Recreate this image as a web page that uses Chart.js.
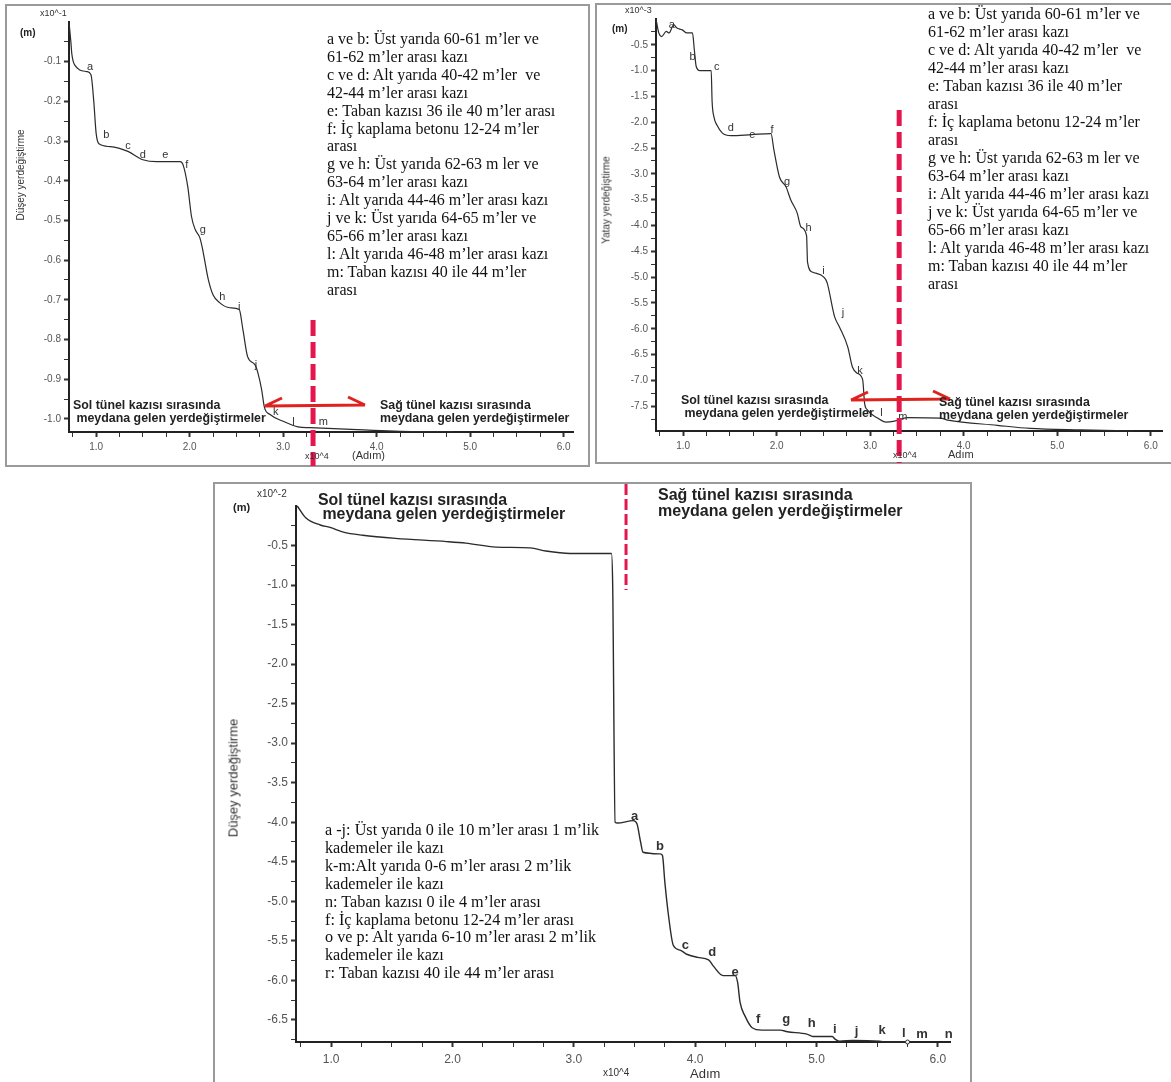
<!DOCTYPE html>
<html>
<head>
<meta charset="utf-8">
<script src="https://cdn.jsdelivr.net/npm/chart.js@4.4.1/dist/chart.umd.min.js"></script>
<style>
  body { margin: 0; background: #fff; width: 1171px; height: 1082px; position: relative; overflow: hidden; }
  canvas { position: absolute; }
  .frame { position: absolute; border: 2px solid #9a9a9a; box-sizing: border-box; }
  .t { position: absolute; white-space: pre; font-family: "Liberation Sans", Arial, sans-serif; color: #333; }
  .b { font-weight: bold; color: #222; }
  .leg { position: absolute; white-space: pre; font-family: "Liberation Serif", "Times New Roman", serif; color: #111; }
  .rot { position: absolute; white-space: pre; font-family: "Liberation Sans", Arial, sans-serif; color: #333; transform: translate(-50%, -50%) rotate(-90deg); }
</style>
</head>
<body>

<div class="frame" style="left:5px;top:4px;width:585px;height:463px"></div>
<div class="frame" style="left:595px;top:3px;width:580px;height:461px"></div>
<div class="frame" style="left:213px;top:482px;width:759px;height:604px"></div>

<canvas id="c1" width="583" height="461" style="left:6px;top:5px"></canvas>
<canvas id="c2" width="574" height="458" style="left:597px;top:5px"></canvas>
<canvas id="c3" width="755" height="599" style="left:215px;top:483px"></canvas>

<!-- top left texts -->
<div class="t" style="left:40px;top:8px;font-size:9px">x10^-1</div>
<div class="t b" style="left:20px;top:27px;font-size:10px">(m)</div>
<div class="rot" style="left:20px;top:175px;font-size:10px">Düşey yerdeğiştirme</div>
<div class="t" style="left:305px;top:451px;font-size:9px">x10^4</div>
<div class="t" style="left:352px;top:449px;font-size:11px">(Adım)</div>
<div class="t b" style="left:73px;top:399px;font-size:12.4px;line-height:12.5px">Sol tünel kazısı sırasında
 meydana gelen yerdeğiştirmeler</div>
<div class="t b" style="left:380px;top:399px;font-size:12.4px;line-height:12.5px">Sağ tünel kazısı sırasında
meydana gelen yerdeğiştirmeler</div>
<div class="leg" style="left:327px;top:30px;font-size:16px;line-height:17.9px">a ve b: Üst yarıda 60-61 m’ler ve
61-62 m’ler arası kazı
c ve d: Alt yarıda 40-42 m’ler  ve
42-44 m’ler arası kazı
e: Taban kazısı 36 ile 40 m’ler arası
f: İç kaplama betonu 12-24 m’ler
arası
g ve h: Üst yarıda 62-63 m ler ve
63-64 m’ler arası kazı
i: Alt yarıda 44-46 m’ler arası kazı
j ve k: Üst yarıda 64-65 m’ler ve
65-66 m’ler arası kazı
l: Alt yarıda 46-48 m’ler arası kazı
m: Taban kazısı 40 ile 44 m’ler
arası</div>

<!-- top right texts -->
<div class="t" style="left:625px;top:5px;font-size:9px">x10^-3</div>
<div class="t b" style="left:612px;top:23px;font-size:10px">(m)</div>
<div class="rot" style="left:606px;top:200px;font-size:10px">Yatay yerdeğiştirme</div>
<div class="t" style="left:893px;top:450px;font-size:9px">x10^4</div>
<div class="t" style="left:948px;top:448px;font-size:11px">Adım</div>
<div class="t b" style="left:681px;top:394px;font-size:12.4px;line-height:12.5px">Sol tünel kazısı sırasında
 meydana gelen yerdeğiştirmeler</div>
<div class="t b" style="left:939px;top:396px;font-size:12.4px;line-height:12.5px">Sağ tünel kazısı sırasında
meydana gelen yerdeğiştirmeler</div>
<div class="leg" style="left:928px;top:5px;font-size:16px;line-height:18px">a ve b: Üst yarıda 60-61 m’ler ve
61-62 m’ler arası kazı
c ve d: Alt yarıda 40-42 m’ler  ve
42-44 m’ler arası kazı
e: Taban kazısı 36 ile 40 m’ler
arası
f: İç kaplama betonu 12-24 m’ler
arası
g ve h: Üst yarıda 62-63 m ler ve
63-64 m’ler arası kazı
i: Alt yarıda 44-46 m’ler arası kazı
j ve k: Üst yarıda 64-65 m’ler ve
65-66 m’ler arası kazı
l: Alt yarıda 46-48 m’ler arası kazı
m: Taban kazısı 40 ile 44 m’ler
arası</div>

<!-- bottom texts -->
<div class="t" style="left:257px;top:488px;font-size:10px">x10^-2</div>
<div class="t b" style="left:233px;top:501px;font-size:11px">(m)</div>
<div class="rot" style="left:233px;top:778px;font-size:13px">Düşey yerdeğiştirme</div>
<div class="t" style="left:603px;top:1067px;font-size:10px">x10^4</div>
<div class="t" style="left:690px;top:1066px;font-size:13px">Adım</div>
<div class="t b" style="left:318px;top:493px;font-size:15.9px;line-height:14px">Sol tünel kazısı sırasında
 meydana gelen yerdeğiştirmeler</div>
<div class="t b" style="left:658px;top:487px;font-size:16px;line-height:16px">Sağ tünel kazısı sırasında
meydana gelen yerdeğiştirmeler</div>
<div class="leg" style="left:325px;top:822px;font-size:16.2px;line-height:17.9px">a -j: Üst yarıda 0 ile 10 m’ler arası 1 m’lik
kademeler ile kazı
k-m:Alt yarıda 0-6 m’ler arası 2 m’lik
kademeler ile kazı
n: Taban kazısı 0 ile 4 m’ler arası
f: İç kaplama betonu 12-24 m’ler arası
o ve p: Alt yarıda 6-10 m’ler arası 2 m’lik
kademeler ile kazı
r: Taban kazısı 40 ile 44 m’ler arası</div>

<script>
// x values are Adım (x10^4)
const xTicks = [1.0, 2.0, 3.0, 4.0, 5.0, 6.0];

// top left: vertical displacement (x10^-1 m)
const leftX = [0.71, 0.73, 0.74, 0.77, 0.90, 0.945, 0.975, 1.00, 1.03, 1.15, 1.34, 1.50, 1.65, 1.90, 1.93, 1.98, 2.02, 2.06, 2.11, 2.14, 2.20, 2.25, 2.32, 2.43, 2.53, 2.57, 2.62, 2.70, 2.73, 2.77, 2.80, 2.86, 3.00, 3.16, 3.29, 3.79, 4.46, 4.82];
const leftY = [0, -0.05, -0.08, -0.108, -0.125, -0.133, -0.2, -0.28, -0.307, -0.314, -0.326, -0.347, -0.352, -0.352, -0.36, -0.415, -0.49, -0.523, -0.544, -0.574, -0.649, -0.687, -0.707, -0.72, -0.724, -0.775, -0.843, -0.864, -0.884, -0.926, -0.971, -0.989, -1.006, -1.02, -1.022, -1.027, -1.032, -1.032];
const leftYTicks = [-0.1, -0.2, -0.3, -0.4, -0.5, -0.6, -0.7, -0.8, -0.9, -1.0];
const leftLabels = ['a', 'b', 'c', 'd', 'e', 'f', 'g', 'h', 'i', 'j', 'k', 'l', 'm'];
const leftLabelX = [0.935, 1.11, 1.34, 1.50, 1.74, 1.97, 2.14, 2.35, 2.53, 2.71, 2.92, 3.11, 3.43];
const leftLabelY = [-0.113, -0.284, -0.312, -0.334, -0.334, -0.359, -0.523, -0.694, -0.717, -0.863, -0.982, -1.007, -1.007];

// top right: horizontal displacement (x10^-3 m)
const rightX = [0.71, 0.74, 0.77, 0.82, 0.85, 0.90, 0.93, 0.99, 1.04, 1.10, 1.12, 1.14, 1.18, 1.30, 1.31, 1.33, 1.36, 1.42, 1.51, 1.73, 1.94, 1.97, 2.03, 2.10, 2.15, 2.22, 2.26, 2.32, 2.33, 2.38, 2.51, 2.54, 2.62, 2.67, 2.76, 2.81, 2.86, 2.92, 2.94, 2.97, 3.08, 3.17, 3.26, 3.40, 3.75, 3.83, 4.36, 4.71, 5.25, 5.82];
const rightY = [0, -0.27, -0.34, -0.24, -0.27, -0.11, -0.17, -0.21, -0.27, -0.27, -0.6, -0.92, -1.0, -1.0, -1.6, -1.9, -2.05, -2.21, -2.26, -2.24, -2.22, -2.53, -3.06, -3.25, -3.5, -3.76, -4.03, -4.2, -4.71, -4.9, -5.01, -5.11, -5.77, -5.96, -6.35, -6.74, -6.86, -6.99, -7.44, -7.57, -7.73, -7.81, -7.79, -7.72, -7.73, -7.77, -7.87, -7.93, -7.96, -7.98];
const rightYTicks = [-0.5, -1.0, -1.5, -2.0, -2.5, -3.0, -3.5, -4.0, -4.5, -5.0, -5.5, -6.0, -6.5, -7.0, -7.5];
const rightLabels = ['a', 'b', 'c', 'd', 'e', 'f', 'g', 'h', 'i', 'j', 'k', 'l', 'm'];
const rightLabelX = [0.88, 1.10, 1.36, 1.51, 1.74, 1.95, 2.11, 2.34, 2.50, 2.71, 2.89, 3.12, 3.35];
const rightLabelY = [-0.11, -0.73, -0.93, -2.11, -2.24, -2.15, -3.15, -4.05, -4.88, -5.69, -6.82, -7.63, -7.71];

// bottom: vertical displacement (x10^-2 m)
const botX = [0.72, 0.79, 0.91, 0.99, 1.10, 1.26, 1.53, 1.95, 2.11, 2.36, 2.64, 2.77, 2.97, 3.31, 3.32, 3.34, 3.36, 3.49, 3.52, 3.55, 3.57, 3.71, 3.73, 3.75, 3.78, 3.82, 3.88, 3.93, 4.02, 4.11, 4.15, 4.23, 4.33, 4.35, 4.37, 4.41, 4.47, 4.55, 4.70, 4.76, 4.92, 4.97, 5.13, 5.15, 5.19, 5.30, 5.52, 5.58, 5.75];
const botY = [0, -0.15, -0.24, -0.27, -0.33, -0.37, -0.41, -0.45, -0.47, -0.52, -0.53, -0.57, -0.60, -0.60, -1.0, -4.0, -4.01, -3.98, -4.02, -4.25, -4.38, -4.40, -4.42, -4.76, -5.18, -5.56, -5.62, -5.67, -5.71, -5.74, -5.82, -5.94, -5.94, -6.03, -6.28, -6.45, -6.60, -6.63, -6.63, -6.65, -6.68, -6.71, -6.71, -6.74, -6.77, -6.76, -6.77, -6.78, -6.78];
const botYTicks = [-0.5, -1.0, -1.5, -2.0, -2.5, -3.0, -3.5, -4.0, -4.5, -5.0, -5.5, -6.0, -6.5];
const botLabels = ['a', 'b', 'c', 'd', 'e', 'f', 'g', 'h', 'i', 'j', 'k', 'l', 'm', 'n'];
const botLabelX = [3.50, 3.71, 3.92, 4.14, 4.33, 4.52, 4.75, 4.96, 5.15, 5.33, 5.54, 5.72, 5.87, 6.09];
const botLabelY = [-3.93, -4.31, -5.56, -5.65, -5.90, -6.50, -6.50, -6.55, -6.62, -6.64, -6.63, -6.67, -6.68, -6.68];

// letters, red split line and arrows
const annotPlugin = {
    id: 'annot',
    afterDatasetsDraw(chart, args, o) {
        const { ctx } = chart;
        const x = chart.scales.x, y = chart.scales.y;
        ctx.save();
        ctx.font = o.labelFont;
        ctx.fillStyle = '#333';
        ctx.textAlign = 'center';
        ctx.textBaseline = 'middle';
        o.labels.forEach((t, i) => {
            ctx.fillText(t, x.getPixelForValue(o.labelX[i]), y.getPixelForValue(o.labelY[i]));
        });

        // dashed red line
        const dx = x.getPixelForValue(o.splitX);
        ctx.strokeStyle = '#e3174d';
        ctx.lineWidth = o.dashWidth;
        ctx.setLineDash(o.dash);
        ctx.beginPath();
        ctx.moveTo(dx, o.dashFrom);
        ctx.lineTo(dx, o.dashTo);
        ctx.stroke();
        ctx.setLineDash([]);

        // arrows (harpoon style, upper barb)
        if (o.arrow) {
            const [x1, y1, x2, y2] = o.arrow;
            ctx.strokeStyle = '#e0221f';
            ctx.lineWidth = 3;
            ctx.beginPath();
            ctx.moveTo(x1, y1);
            ctx.lineTo(x2, y2);
            ctx.moveTo(x1, y1);
            ctx.lineTo(x1 + 17, y1 - 8);
            ctx.moveTo(x2, y2);
            ctx.lineTo(x2 - 17, y2 - 8);
            ctx.stroke();
        }
        ctx.restore();
    }
};

function tickList(majors, step, lo, hi) {
    const out = [];
    for (let v = Math.ceil(lo / step - 1e-6) * step; v <= hi + 1e-9; v += step) {
        out.push({ value: Math.round(v * 1000) / 1000 });
    }
    return out;
}

function isMajor(majors, v) {
    return majors.some(m => Math.abs(m - v) < 1e-6);
}

function makeChart(id, xs, ys, cfg) {
    const majorsY = cfg.yTicks;
    const last = xs.length - 1;
    new Chart(document.getElementById(id), {
        type: 'line',
        data: {
            datasets: [{
                data: xs.map((v, i) => ({ x: v, y: ys[i] })),
                borderColor: '#2b2b2b',
                borderWidth: cfg.lineWidth,
                pointRadius: c => (cfg.endDot && c.dataIndex === last) ? 2 : 0,
                pointBackgroundColor: '#fff',
                pointBorderColor: '#2b2b2b',
                pointBorderWidth: 1,
                cubicInterpolationMode: 'monotone',
                fill: false,
                clip: 6
            }]
        },
        options: {
            responsive: false,
            animation: false,
            devicePixelRatio: 1,
            layout: { padding: { top: cfg.padTop, right: cfg.padRight, left: 0, bottom: 0 } },
            plugins: {
                legend: { display: false },
                tooltip: { enabled: false },
                annot: cfg.annot
            },
            scales: {
                x: {
                    type: 'linear',
                    min: cfg.xMin,
                    max: cfg.xMax,
                    afterFit: s => { s.height = cfg.xHeight; },
                    afterBuildTicks: s => { s.ticks = tickList(xTicks, 0.25, 0.75, cfg.xMax); },
                    ticks: {
                        autoSkip: false,
                        maxRotation: 0,
                        padding: cfg.tickPad,
                        color: '#555',
                        font: { family: 'Liberation Sans', size: cfg.tickFont },
                        callback: v => isMajor(xTicks, v) ? v.toFixed(1) : ''
                    },
                    grid: {
                        drawOnChartArea: false,
                        drawTicks: true,
                        tickLength: 5,
                        tickColor: '#333',
                        tickWidth: c => isMajor(xTicks, c.tick.value) ? 2 : 1
                    },
                    border: { color: '#222', width: 2 }
                },
                y: {
                    min: cfg.yMin,
                    max: 0,
                    afterFit: s => { s.width = cfg.yWidth; },
                    afterBuildTicks: s => { s.ticks = tickList(majorsY, cfg.yMinor, cfg.yMin, -cfg.yMinor + 1e-9); },
                    ticks: {
                        autoSkip: false,
                        padding: 3,
                        color: '#555',
                        font: { family: 'Liberation Sans', size: cfg.tickFont },
                        callback: v => isMajor(majorsY, v) ? v.toFixed(1) : ''
                    },
                    grid: {
                        drawOnChartArea: false,
                        drawTicks: true,
                        tickLength: 5,
                        tickColor: '#333',
                        tickWidth: c => isMajor(majorsY, c.tick.value) ? 2 : 1
                    },
                    border: { color: '#222', width: 2 }
                }
            }
        },
        plugins: [annotPlugin]
    });
}

makeChart('c1', leftX, leftY, {
    xMin: 0.71, xMax: 6.1, yMin: -1.033, yTicks: leftYTicks, yMinor: 0.05,
    padTop: 17, padRight: 16, xHeight: 34, yWidth: 63, tickPad: 4, tickFont: 10, lineWidth: 1.2,
    annot: {
        labels: leftLabels, labelX: leftLabelX, labelY: leftLabelY, labelFont: '11px "Liberation Sans"',
        splitX: 3.32, dashFrom: 315, dashTo: 461, dashWidth: 5, dash: [16, 6],
        arrow: [259, 401, 359, 400]
    }
});

makeChart('c2', rightX, rightY, {
    xMin: 0.71, xMax: 6.12, yMin: -7.98, yTicks: rightYTicks, yMinor: 0.25,
    padTop: 14, padRight: 9, xHeight: 32, yWidth: 59, tickPad: 4, tickFont: 10, lineWidth: 1.2,
    annot: {
        labels: rightLabels, labelX: rightLabelX, labelY: rightLabelY, labelFont: '11px "Liberation Sans"',
        splitX: 3.31, dashFrom: 105, dashTo: 458, dashWidth: 5, dash: [16, 6],
        arrow: [254, 395, 353, 394]
    }
});

makeChart('c3', botX, botY, {
    xMin: 0.71, xMax: 6.1, yMin: -6.78, yTicks: botYTicks, yMinor: 0.25,
    padTop: 23, padRight: 20, xHeight: 40, yWidth: 81, tickPad: 5, tickFont: 12, lineWidth: 1.4,
    endDot: true,
    annot: {
        labels: botLabels, labelX: botLabelX, labelY: botLabelY, labelFont: 'bold 13px "Liberation Sans"',
        splitX: 3.43, dashFrom: 1, dashTo: 107, dashWidth: 3, dash: [11, 4],
        arrow: null
    }
});
</script>
</body>
</html>
